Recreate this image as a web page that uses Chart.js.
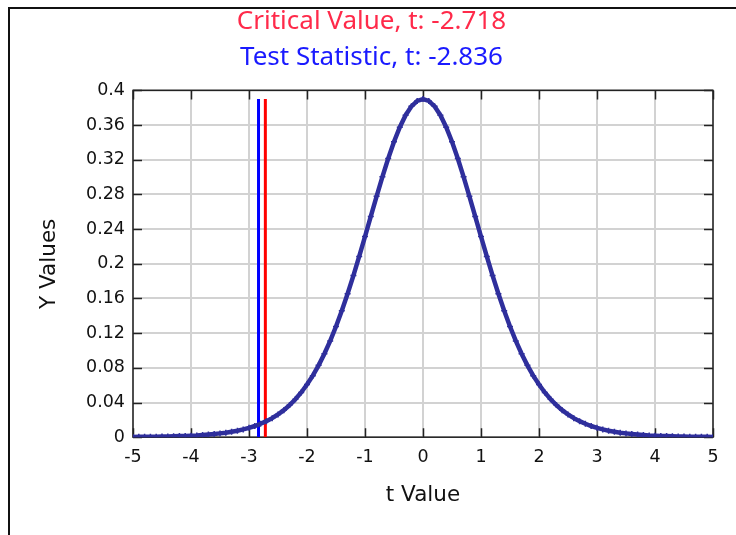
<!DOCTYPE html>
<html>
<head>
<meta charset="utf-8">
<script src="https://cdn.jsdelivr.net/npm/chart.js@4/dist/chart.umd.min.js"></script>
<style>
  html, body { margin: 0; padding: 0; background: #fff; }
  #wrap { position: relative; width: 736px; height: 535px; overflow: hidden; }
  #frame { position: absolute; left: 8px; top: 7px; width: 800px; height: 600px;
           border-top: 2px solid #111; border-left: 2px solid #111; }
  canvas { position: absolute; left: 0; top: 0; }
</style>
</head>
<body>
<div id="wrap">
  <div id="frame"></div>
  <canvas id="c" width="736" height="535"></canvas>
</div>
<script>
// ---- data ----
const tValues = [
  -5.0,-4.9,-4.8,-4.7,-4.6,-4.5,-4.4,-4.3,-4.2,-4.1,
  -4.0,-3.9,-3.8,-3.7,-3.6,-3.5,-3.4,-3.3,-3.2,-3.1,
  -3.0,-2.9,-2.8,-2.7,-2.6,-2.5,-2.4,-2.3,-2.2,-2.1,
  -2.0,-1.9,-1.8,-1.7,-1.6,-1.5,-1.4,-1.3,-1.2,-1.1,
  -1.0,-0.9,-0.8,-0.7,-0.6,-0.5,-0.4,-0.3,-0.2,-0.1,
  0.0,
  0.1,0.2,0.3,0.4,0.5,0.6,0.7,0.8,0.9,1.0,
  1.1,1.2,1.3,1.4,1.5,1.6,1.7,1.8,1.9,2.0,
  2.1,2.2,2.3,2.4,2.5,2.6,2.7,2.8,2.9,3.0,
  3.1,3.2,3.3,3.4,3.5,3.6,3.7,3.8,3.9,4.0,
  4.1,4.2,4.3,4.4,4.5,4.6,4.7,4.8,4.9,5.0
];
const yValues = [
  0.0003,0.0004,0.0004,0.0005,0.0006,0.0007,0.0009,0.0011,0.0013,0.0015,
  0.0018,0.0021,0.0026,0.0031,0.0037,0.0044,0.0052,0.0063,0.0075,0.0090,
  0.0108,0.0129,0.0155,0.0185,0.0220,0.0262,0.0312,0.0370,0.0437,0.0516,
  0.0607,0.0710,0.0829,0.0962,0.1111,0.1277,0.1458,0.1654,0.1864,0.2085,
  0.2314,0.2546,0.2778,0.3003,0.3215,0.3408,0.3576,0.3714,0.3816,0.3879,
  0.3900,
  0.3879,0.3816,0.3714,0.3576,0.3408,0.3215,0.3003,0.2778,0.2546,0.2314,
  0.2085,0.1864,0.1654,0.1458,0.1277,0.1111,0.0962,0.0829,0.0710,0.0607,
  0.0516,0.0437,0.0370,0.0312,0.0262,0.0220,0.0185,0.0155,0.0129,0.0108,
  0.0090,0.0075,0.0063,0.0052,0.0044,0.0037,0.0031,0.0026,0.0021,0.0018,
  0.0015,0.0013,0.0011,0.0009,0.0007,0.0006,0.0005,0.0004,0.0004,0.0003
];
const criticalValue = -2.718;
const testStatistic = -2.836;
const lineTop = 0.39;
const xTicks = [-5,-4,-3,-2,-1,0,1,2,3,4,5];
const xTickLabels = ['-5','-4','-3','-2','-1','0','1','2','3','4','5'];
const yTicks = [0,0.04,0.08,0.12,0.16,0.2,0.24,0.28,0.32,0.36,0.4];
const yTickLabels = ['0','0.04','0.08','0.12','0.16','0.2','0.24','0.28','0.32','0.36','0.4'];
const titleText = 'Critical Value, t: ' + criticalValue;
const subtitleText = 'Test Statistic, t: ' + testStatistic;

const curve = tValues.map((t, i) => ({ x: t, y: yValues[i] }));

const frameTicks = {
  id: 'frameTicks',
  beforeDatasetsDraw(chart) {
    const { ctx, chartArea: a, scales: { x, y } } = chart;
    ctx.save();
    ctx.strokeStyle = '#222';
    ctx.lineWidth = 1.5;
    ctx.strokeRect(a.left, a.top, a.right - a.left, a.bottom - a.top);
    const L = 9;
    ctx.beginPath();
    xTicks.forEach(v => {
      const px = Math.round(x.getPixelForValue(v)) + 0.5;
      ctx.moveTo(px, a.bottom); ctx.lineTo(px, a.bottom - L);
      ctx.moveTo(px, a.top); ctx.lineTo(px, a.top + L);
    });
    yTicks.forEach(v => {
      const py = Math.round(y.getPixelForValue(v)) + 0.5;
      ctx.moveTo(a.left, py); ctx.lineTo(a.left + L, py);
      ctx.moveTo(a.right, py); ctx.lineTo(a.right - L, py);
    });
    ctx.stroke();
    ctx.restore();
  }
};

new Chart(document.getElementById('c'), {
  type: 'scatter',
  data: {
    datasets: [
      {
        label: 't distribution',
        data: curve,
        showLine: true,
        borderColor: '#2f2f9c',
        backgroundColor: '#2f2f9c',
        borderWidth: 4.5,
        pointStyle: 'cross',
        pointRadius: 3,
        pointBorderWidth: 1.5,
        tension: 0
      },
      {
        label: 'Test Statistic',
        data: [{ x: testStatistic, y: 0 }, { x: testStatistic, y: lineTop }],
        showLine: true,
        borderColor: '#0000ff',
        borderWidth: 3,
        pointRadius: 0
      },
      {
        label: 'Critical Value',
        data: [{ x: criticalValue, y: 0 }, { x: criticalValue, y: lineTop }],
        showLine: true,
        borderColor: '#ff0000',
        borderWidth: 3,
        pointRadius: 0
      }
    ]
  },
  options: {
    responsive: false,
    animation: false,
    layout: { padding: { left: 30, right: 23, top: 0, bottom: 27 } },
    plugins: {
      legend: { display: false },
      tooltip: { enabled: false },
      title: {
        display: true,
        text: titleText,
        color: '#ff2a4a',
        font: { family: 'Noto Sans', size: 26, weight: 'normal' },
        padding: { top: 6, bottom: 5 }
      },
      subtitle: {
        display: true,
        text: subtitleText,
        color: '#1a1aff',
        font: { family: 'Noto Sans', size: 26, weight: 'normal' },
        padding: { top: 0, bottom: 17 }
      }
    },
    scales: {
      x: {
        type: 'linear',
        min: -5, max: 5,
        afterBuildTicks: s => { s.ticks = xTicks.map(v => ({ value: v })); },
        grid: { color: '#d2d2d2', lineWidth: 2, drawTicks: false },
        border: { display: false },
        ticks: {
          color: '#111',
          font: { family: 'DejaVu Sans', size: 17.5 },
          padding: 10,
          maxRotation: 0,
          callback: (v, i) => xTickLabels[i]
        },
        title: {
          display: true, text: 't Value', color: '#111',
          font: { family: 'DejaVu Sans', size: 21.5 },
          padding: { top: 4, bottom: 0 }
        }
      },
      y: {
        type: 'linear',
        min: 0, max: 0.4,
        afterBuildTicks: s => { s.ticks = yTicks.map(v => ({ value: v })); },
        afterFit: s => { s.width = 103; },
        grid: { color: '#d2d2d2', lineWidth: 2, drawTicks: false },
        border: { display: false },
        ticks: {
          color: '#111',
          font: { family: 'DejaVu Sans', size: 17.5 },
          padding: 8,
          callback: (v, i) => yTickLabels[i]
        },
        title: {
          display: true, text: 'Y Values', color: '#111',
          font: { family: 'DejaVu Sans', size: 21.5 },
          padding: { top: 7, bottom: 0 }
        }
      }
    }
  },
  plugins: [frameTicks]
});
</script>
</body>
</html>
